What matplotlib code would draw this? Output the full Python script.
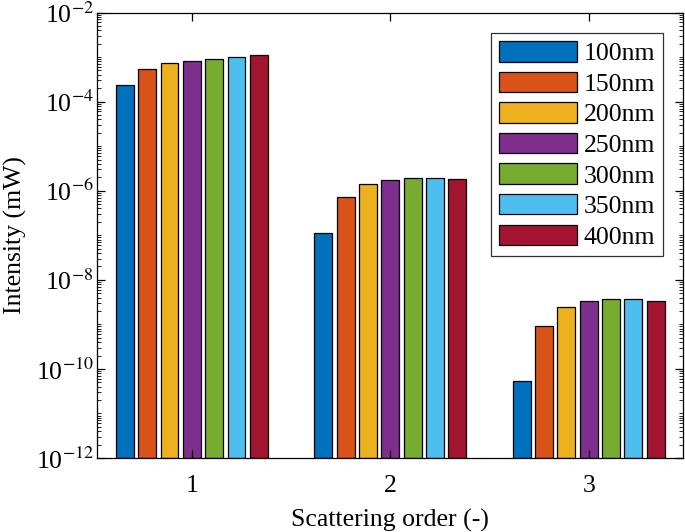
import numpy as np
import matplotlib
matplotlib.use("Agg")
import matplotlib.pyplot as plt
from matplotlib.ticker import LogLocator, FixedLocator, NullFormatter

plt.rcParams['font.family'] = ['Liberation Serif', 'DejaVu Serif']
plt.rcParams['mathtext.fontset'] = 'stix'

orders = [1, 2, 3]
sizes = ['100nm', '150nm', '200nm', '250nm', '300nm', '350nm', '400nm']
colors = ['#0072BD', '#D95319', '#EDB120', '#7E2F8E', '#77AC30', '#4DBEEE', '#A2142F']
ytick_vals = [1e-12, 1e-10, 1e-8, 1e-6, 1e-4, 1e-2]
ytick_labels = ['10$^{-12}$', '10$^{-10}$', '10$^{-8}$', '10$^{-6}$', '10$^{-4}$', '10$^{-2}$']

# intensity (mW) per particle size, for scattering order 1, 2, 3
i_100 = [2.3e-4, 1.12e-7, 5.3e-11]
i_150 = [5.3e-4, 7.3e-7, 9.0e-10]
i_200 = [7.2e-4, 1.39e-6, 2.4e-9]
i_250 = [8.3e-4, 1.77e-6, 3.4e-9]
i_300 = [9.2e-4, 1.93e-6, 3.75e-9]
i_350 = [9.9e-4, 1.93e-6, 3.7e-9]
i_400 = [1.09e-3, 1.8e-6, 3.3e-9]
series = [i_100, i_150, i_200, i_250, i_300, i_350, i_400]

fs = 18.5

fig = plt.figure(figsize=(6.85, 5.32), dpi=100)
ax = fig.add_axes([0.141, 0.139, 0.856, 0.8375])

pitch = 0.1125
x = np.array(orders, dtype=float)
for k, (vals, lab, c) in enumerate(zip(series, sizes, colors)):
    off = (k - 3) * pitch
    ax.bar(x + off, vals, width=pitch * 0.8, bottom=1e-12, color=c,
           edgecolor='black', linewidth=0.9, label=lab)

ax.set_yscale('log')
ax.set_ylim(1e-12, 1e-2)
ax.set_xlim(0.52, 3.475)
ax.set_xticks(orders)
ax.set_xticklabels([str(o) for o in orders])
ax.yaxis.set_major_locator(FixedLocator(ytick_vals))
ax.set_yticklabels(ytick_labels)
ax.yaxis.set_minor_locator(LogLocator(base=10, subs=np.arange(1, 10), numticks=50))
ax.yaxis.set_minor_formatter(NullFormatter())
ax.tick_params(which='both', direction='in', top=True, right=True, labelsize=fs)
ax.tick_params(which='major', length=6, width=0.9)
ax.tick_params(which='minor', length=3, width=0.6)
ax.tick_params(axis='x', which='minor', bottom=False, top=False)
ax.tick_params(axis='x', which='major', pad=12.5)
ax.tick_params(axis='y', which='major', pad=2)
for s in ax.spines.values():
    s.set_linewidth(0.9)

ax.set_xlabel('Scattering order (-)', fontsize=fs, labelpad=8)
ax.set_ylabel('Intensity (mW)', fontsize=fs, labelpad=6)

leg = ax.legend(loc='upper right', bbox_to_anchor=(0.966, 0.953), borderaxespad=0,
                fontsize=fs, handlelength=3.05, handleheight=0.85, labelspacing=0.25,
                handletextpad=0.25, borderpad=0.3, fancybox=False, framealpha=1,
                edgecolor='#333333')
leg.get_frame().set_linewidth(0.9)

fig.savefig('out.png', dpi=100)
